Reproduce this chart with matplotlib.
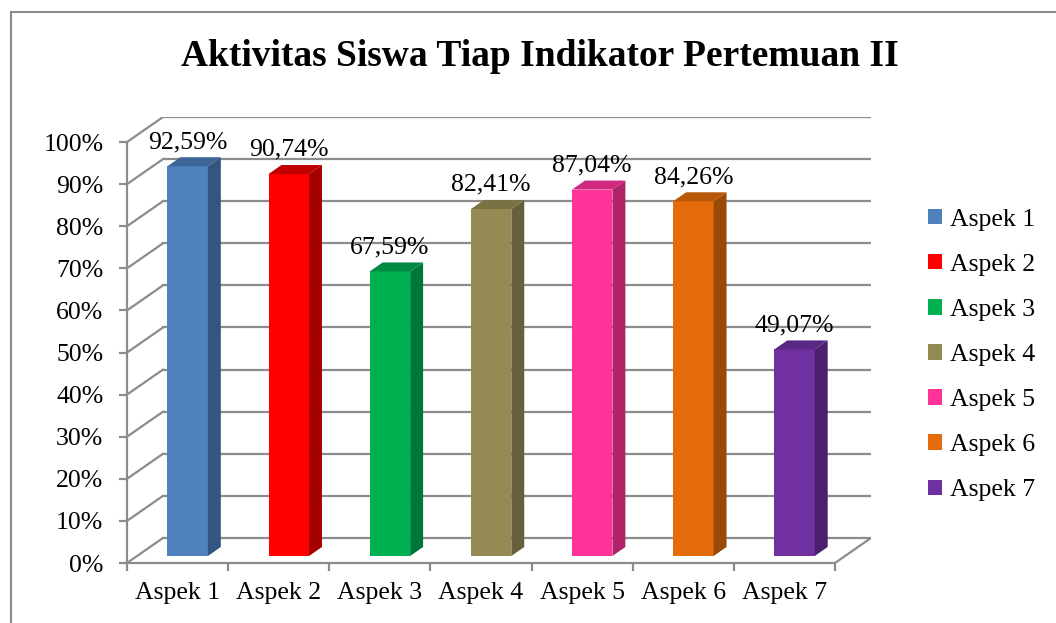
import matplotlib
matplotlib.use("Agg")
import matplotlib.pyplot as plt
from matplotlib.patches import Polygon, Patch
from matplotlib.lines import Line2D
import numpy as np

categories = ["Aspek 1", "Aspek 2", "Aspek 3", "Aspek 4", "Aspek 5", "Aspek 6", "Aspek 7"]
values = [92.59, 90.74, 67.59, 82.41, 87.04, 84.26, 49.07]
labels = ["92,59%", "90,74%", "67,59%", "82,41%", "87,04%", "84,26%", "49,07%"]
yticks = [0, 10, 20, 30, 40, 50, 60, 70, 80, 90, 100]
ytick_labels = ["0%", "10%", "20%", "30%", "40%", "50%", "60%", "70%", "80%", "90%", "100%"]
front_colors = ["#4F81BD", "#FF0000", "#00B050", "#948A54", "#FF3399", "#E46C0A", "#7030A0"]
side_colors = ["#34557F", "#A50000", "#00773A", "#67603A", "#B0236B", "#9A4A07", "#4A1F6B"]
top_colors = ["#3D6598", "#C00000", "#008A42", "#7A7145", "#D0287F", "#B85808", "#5B2785"]
title = "Aktivitas Siswa Tiap Indikator Pertemuan II"

plt.rcParams['font.family'] = ['Liberation Serif', 'DejaVu Serif']

W, H = 1056, 623
fig = plt.figure(figsize=(W / 100, H / 100), dpi=100)
fig.patch.set_facecolor("white")

# outer border
fig.add_artist(Line2D([11 / W, 11 / W], [0, 1 - 12 / H], transform=fig.transFigure, color="#8c8c8c", lw=1.5))
fig.add_artist(Line2D([11 / W, 1], [1 - 12 / H, 1 - 12 / H], transform=fig.transFigure, color="#8c8c8c", lw=1.5))

n = len(categories)
DX, DY = 0.356, 5.95          # depth offset of back wall (data units)
ax = fig.add_axes([127 / W, (H - 563) / H, 744 / W, 446 / H])
ax.set_xlim(0, n + DX)
ax.set_ylim(0, 100 + DY)
ax.set_facecolor("none")

grid_c = "#8c8c8c"
# back wall gridlines and left side wall diagonals
for v in yticks:
    ax.plot([DX, n + DX], [v + DY, v + DY], color=grid_c, lw=1.6, zorder=1)
    ax.plot([0, DX], [v, v + DY], color=grid_c, lw=1.6, zorder=1)
# floor right edge
ax.plot([n, n + DX], [0, DY], color=grid_c, lw=1.6, zorder=1)

# bars
f = 0.28
bx, by = f * DX, f * DY
bw = 0.40
sdx, sdy = 0.128, 2.14
centers = np.arange(n) + 0.5 + bx
ax.bar(centers, values, width=bw, bottom=by, color=front_colors, zorder=3, linewidth=0)
for i, v in enumerate(values):
    x0 = centers[i] - bw / 2
    x1 = centers[i] + bw / 2
    ytop = v + by
    side = Polygon([[x1, by], [x1 + sdx, by + sdy], [x1 + sdx, ytop + sdy], [x1, ytop]],
                   closed=True, facecolor=side_colors[i], edgecolor="none", zorder=3)
    top = Polygon([[x0, ytop], [x1, ytop], [x1 + sdx, ytop + sdy], [x0 + sdx, ytop + sdy]],
                  closed=True, facecolor=top_colors[i], edgecolor="none", zorder=3)
    ax.add_patch(side)
    ax.add_patch(top)
    ax.annotate(labels[i], (centers[i], ytop + sdy), xytext=(0, 3),
                textcoords="offset points", ha="center", va="bottom", fontsize=18.5, zorder=5)

# axes styling
for s in ["top", "right"]:
    ax.spines[s].set_visible(False)
ax.spines["left"].set_bounds(0, 100)
ax.spines["bottom"].set_bounds(0, n)
ax.spines["left"].set_color(grid_c)
ax.spines["bottom"].set_color(grid_c)
ax.spines["left"].set_linewidth(1.6)
ax.spines["bottom"].set_linewidth(1.6)
ax.set_yticks(yticks)
ax.set_yticklabels(ytick_labels, fontsize=18.5)
ax.set_xticks(np.arange(n + 1))
ax.set_xticklabels([])
ax.set_xticks(np.arange(n) + 0.5, minor=True)
ax.set_xticklabels(categories, minor=True, fontsize=18.5)
ax.tick_params(axis="x", which="major", length=6, color=grid_c, width=1.6, direction="out")
ax.tick_params(axis="x", which="minor", length=0, pad=14)
ax.tick_params(axis="y", length=6, color=grid_c, width=1.6, pad=11)

fig.text(540 / W, 1 - 57 / H, title, ha="center", va="center", fontsize=27, fontweight="bold")

handles = [Patch(facecolor=c, edgecolor="none") for c in front_colors]
fig.legend(handles, categories, loc="center left", bbox_to_anchor=(915 / W, 1 - 355 / H),
           frameon=False, fontsize=18.5, handlelength=0.55, handleheight=0.55,
           handletextpad=0.3, labelspacing=0.9, borderpad=0)

fig.savefig("out.png", dpi=100)
